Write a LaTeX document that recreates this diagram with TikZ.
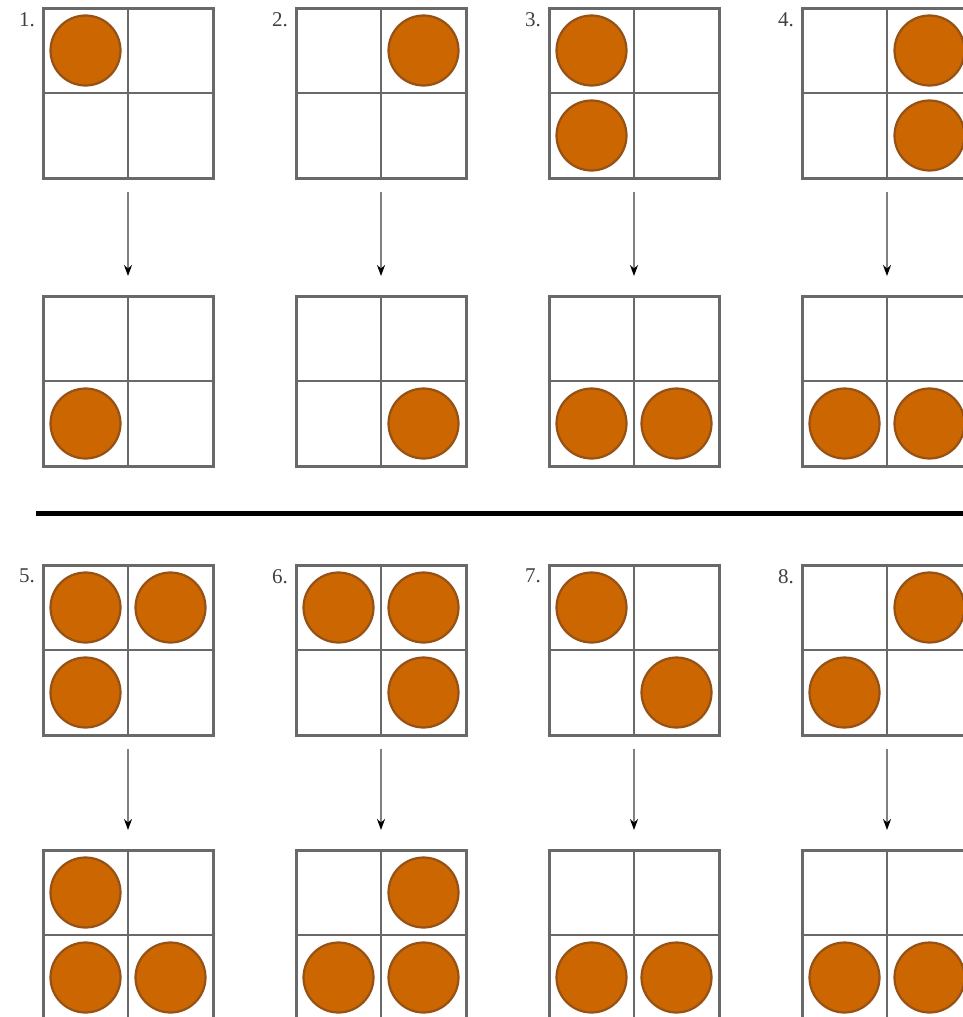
\documentclass[tikz,border=0pt]{standalone}
\usepackage{fontspec}
\setmainfont{Liberation Serif}
\usetikzlibrary{arrows.meta,calc}
\definecolor{gridgray}{RGB}{105,105,105}
\definecolor{ballfill}{RGB}{204,102,0}
\definecolor{balledge}{RGB}{150,82,22}
\tikzset{
  gridbox/.style={draw=gridgray, line width=3pt, minimum size=170pt, inner sep=0pt, outer sep=0pt, anchor=north west},
  divider/.style={draw=gridgray, line width=2.8pt},
  ball/.style={circle, fill=ballfill, draw=balledge, line width=2.2pt, minimum size=70pt, inner sep=0pt},
  flow/.style={draw=gray, line width=2pt, -{Stealth[length=11pt,width=8pt,color=black]}, shorten <=14pt, shorten >=20pt},
  lbl/.style={font=\fontsize{21}{21}\selectfont, anchor=north east, inner sep=0pt, text=black!75},
  sepline/.style={line width=5pt, draw=black}
}
\newcommand\mkgrid[4]{%
  \node[gridbox] (#1) at (#2,#3) {};
  \draw[divider] (#1.north) -- (#1.south);
  \draw[divider] (#1.west) -- (#1.east);
  \foreach \c/\r [count=\k] in {#4}
    \node[ball] (#1-\k) at ($(#1.north west)+(42.5+85*\c,42.5+85*\r)$) {};
}
\begin{document}
\begin{tikzpicture}[x=1pt,y=-1pt]
\useasboundingbox (0,0) rectangle (963,1017);
% row 1 / 2
\mkgrid{g1t}{43}{8}{0/0}
\mkgrid{g2t}{296}{8}{1/0}
\mkgrid{g3t}{549}{8}{0/0,0/1}
\mkgrid{g4t}{802}{8}{1/0,1/1}
\mkgrid{g1b}{43}{296}{0/1}
\mkgrid{g2b}{296}{296}{1/1}
\mkgrid{g3b}{549}{296}{0/1,1/1}
\mkgrid{g4b}{802}{296}{0/1,1/1}
% row 3 / 4
\mkgrid{g5t}{43}{565}{0/0,1/0,0/1}
\mkgrid{g6t}{296}{565}{0/0,1/0,1/1}
\mkgrid{g7t}{549}{565}{0/0,1/1}
\mkgrid{g8t}{802}{565}{1/0,0/1}
\mkgrid{g5b}{43}{850}{0/0,0/1,1/1}
\mkgrid{g6b}{296}{850}{1/0,0/1,1/1}
\mkgrid{g7b}{549}{850}{0/1,1/1}
\mkgrid{g8b}{802}{850}{0/1,1/1}
% arrows
\foreach \i in {1,...,8}
  \draw[flow] (g\i t.south) -- (g\i b.north);
% labels
\foreach \i in {1,...,8}
  \node[lbl] (l\i) at ($(g\i t.north west)+(-8,4)$) {\i.};
% separator
\coordinate (sepL) at (36,513.5);
\coordinate (sepR) at (963,513.5);
\draw[sepline] (sepL) -- (sepR);
\end{tikzpicture}
\end{document}
